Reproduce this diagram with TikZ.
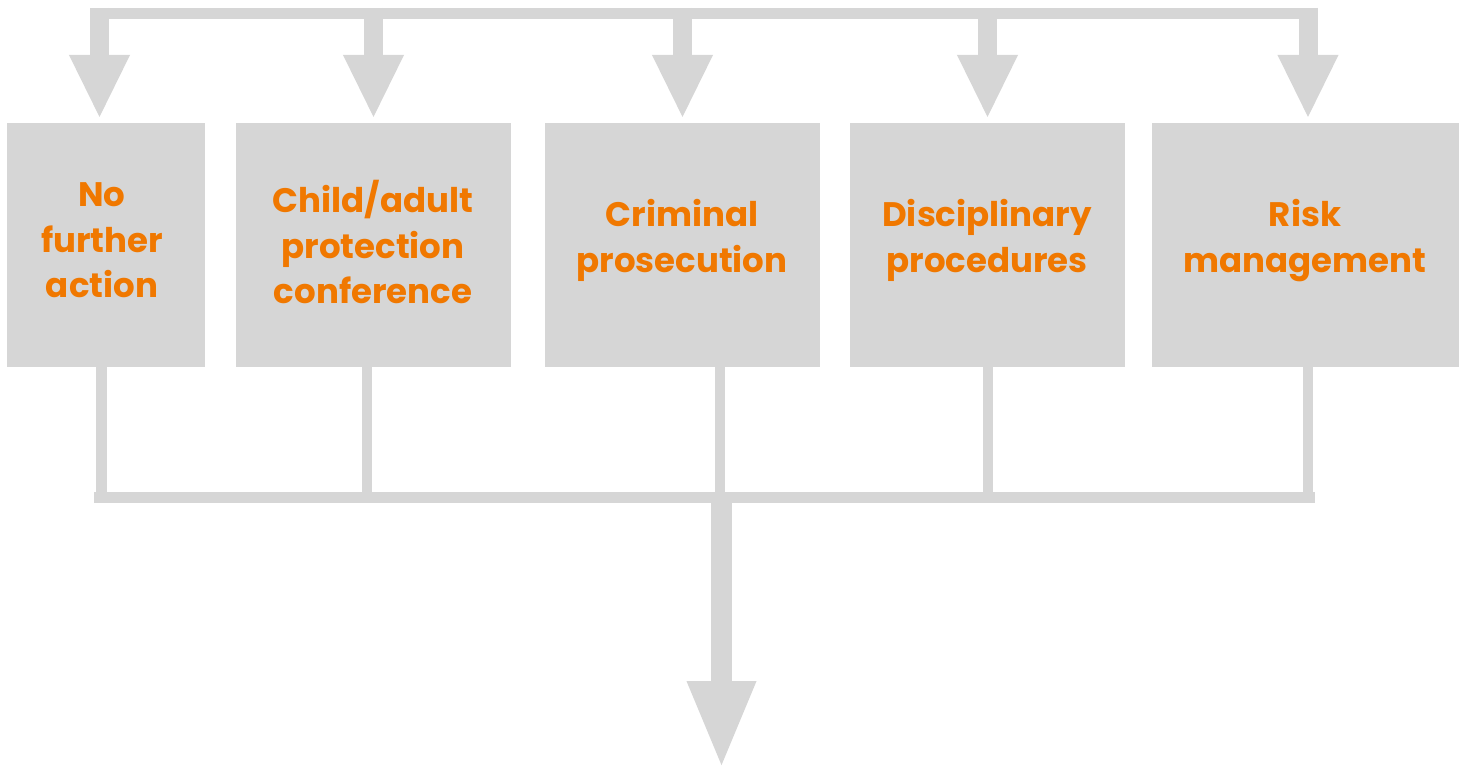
\documentclass[tikz,border=0pt]{standalone}
\usepackage{fontspec}
\setmainfont{Poppins}
\usetikzlibrary{arrows.meta}
\definecolor{boxgrey}{HTML}{D6D6D6}
\definecolor{txtorange}{HTML}{F07800}
\tikzset{
  box/.style={fill=boxgrey, draw=none, inner sep=0pt},
  lbl/.style={text=txtorange, align=center, inner sep=0pt,
    font=\fontsize{34}{45.5}\selectfont\bfseries},
  bar/.style={draw=boxgrey, line width=11pt},
  thin/.style={draw=boxgrey, line width=10.5pt},
  drop/.style={draw=boxgrey, line width=19pt,
    -{Triangle[width=56pt,length=64pt]}, shorten >=4pt},
  bigdrop/.style={draw=boxgrey, line width=21pt,
    -{Triangle[width=63pt,length=88pt]}},
}
\begin{document}
\begin{tikzpicture}[x=1pt,y=-1pt]
\useasboundingbox (0,0) rectangle (1469,767);
% boxes
\node[box, minimum width=198pt, minimum height=244pt] (b1) at (106,245) {};
\node[box, minimum width=275pt, minimum height=244pt] (b2) at (373.5,245) {};
\node[box, minimum width=275pt, minimum height=244pt] (b3) at (682.5,245) {};
\node[box, minimum width=275pt, minimum height=244pt] (b4) at (987.5,245) {};
\node[box, minimum width=307pt, minimum height=244pt] (b5) at (1305.5,245) {};
% labels
\node[lbl] (t1) at (102,240.5) {No\\further\\action};
\node[lbl] (t2) at (373,242) {Child/adult\\protection\\conference};
\node[lbl] (t3) at (682,240.5) {Criminal\\prosecution};
\node[lbl] (t4) at (987,240.5) {Disciplinary\\procedures};
\node[lbl] (t5) at (1305,240.5) {Risk\\management};
% top distribution bar
\coordinate (tl) at (90,13.5);
\coordinate (tr) at (1317,13.5);
\draw[bar] (tl) -- (tr);
\coordinate (d1) at (99.5,8);
\coordinate (d2) at (373.5,8);
\coordinate (d3) at (682.5,8);
\coordinate (d4) at (987.5,8);
\coordinate (d5) at (1308,8);
\draw[drop] (d1) -- (d1 |- b1.north);
\draw[drop] (d2) -- (d2 |- b2.north);
\draw[drop] (d3) -- (d3 |- b3.north);
\draw[drop] (d4) -- (d4 |- b4.north);
\draw[drop] (d5) -- (d5 |- b5.north);
% bottom collecting bar
\coordinate (bl) at (94,497.5);
\coordinate (br) at (1315,497.5);
\coordinate (u1) at (101.5,367);
\coordinate (u2) at (367,367);
\coordinate (u3) at (720,367);
\coordinate (u4) at (988,367);
\coordinate (u5) at (1308,367);
\draw[thin] (u1) -- (u1 |- bl);
\draw[thin] (u2) -- (u2 |- bl);
\draw[thin] (u3) -- (u3 |- bl);
\draw[thin] (u4) -- (u4 |- bl);
\draw[thin] (u5) -- (u5 |- bl);
\draw[bar] (bl) -- (br);
\coordinate (m) at (721.5,502);
\coordinate (end) at (721.5,769);
\draw[bigdrop] (m) -- (end);
\end{tikzpicture}
\end{document}
